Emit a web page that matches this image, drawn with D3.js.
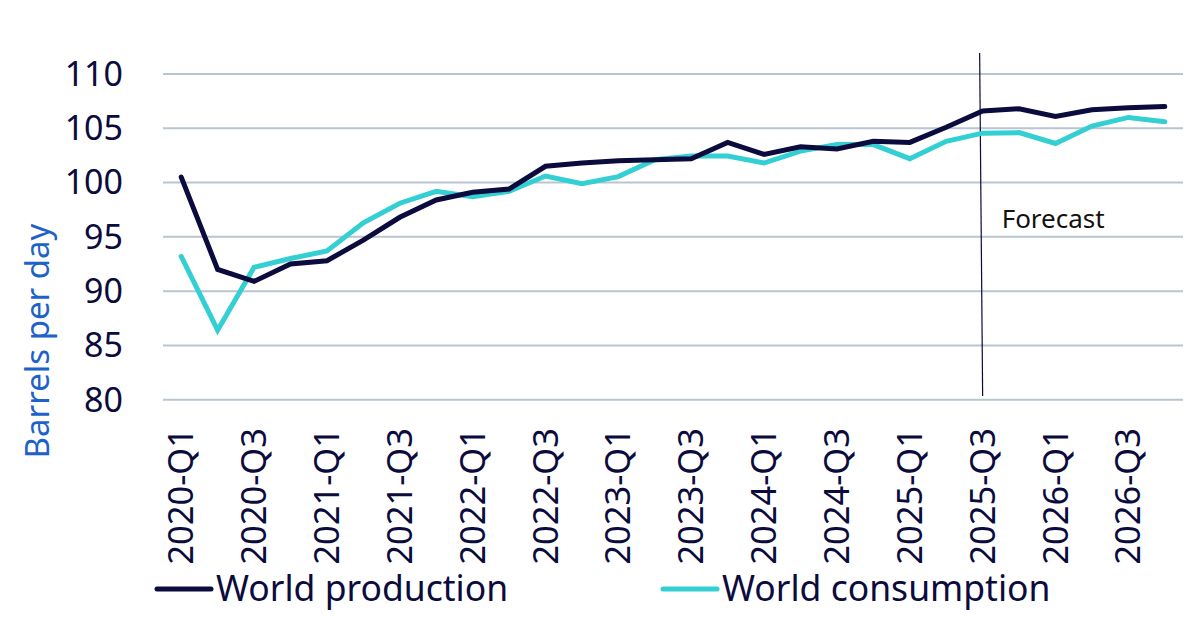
<!DOCTYPE html>
<html><head><meta charset="utf-8">
<script src="https://cdn.jsdelivr.net/npm/d3@7"></script>
<style>html,body{margin:0;padding:0;background:#fff;}svg{display:block;font-family:"Noto Sans",sans-serif;}</style>
</head><body>
<script>
const quarters = ["2020-Q1","2020-Q2","2020-Q3","2020-Q4","2021-Q1","2021-Q2","2021-Q3","2021-Q4",
  "2022-Q1","2022-Q2","2022-Q3","2022-Q4","2023-Q1","2023-Q2","2023-Q3","2023-Q4",
  "2024-Q1","2024-Q2","2024-Q3","2024-Q4","2025-Q1","2025-Q2","2025-Q3","2025-Q4",
  "2026-Q1","2026-Q2","2026-Q3","2026-Q4"];
const tickLabels = ["2020-Q1","2020-Q3","2021-Q1","2021-Q3","2022-Q1","2022-Q3","2023-Q1","2023-Q3",
  "2024-Q1","2024-Q3","2025-Q1","2025-Q3","2026-Q1","2026-Q3"];
const production = [100.5, 92.0, 90.9, 92.5, 92.8, 94.7, 96.8, 98.4, 99.1, 99.4, 101.5, 101.8, 102.0, 102.1,
  102.2, 103.7, 102.6, 103.3, 103.1, 103.8, 103.7, 105.1, 106.6, 106.8, 106.1, 106.7, 106.9, 107.0];
const consumption = [93.2, 86.4, 92.2, 93.0, 93.7, 96.3, 98.1, 99.2, 98.7, 99.2, 100.6, 99.9, 100.55, 102.1,
  102.45, 102.45, 101.8, 102.9, 103.5, 103.5, 102.2, 103.8, 104.55, 104.6, 103.6, 105.2, 106.0, 105.6];
const yTicks = [80, 85, 90, 95, 100, 105, 110];
const forecastStart = "2025-Q3";
const seriesNames = ["World production", "World consumption"];

const W = 1200, H = 617;
const navy = "#0b0b3d", teal = "#33cfd3", grid = "#b9c5d1", blue = "#1d62c9";

const svg = d3.select("body").append("svg").attr("width", W).attr("height", H);

const x = d3.scaleBand().domain(quarters).range([163, 1183]);
const cx = d => x(d) + x.bandwidth() / 2;
const y = d3.scaleLinear().domain([80, 110]).range([399.7, 74]);

// gridlines
svg.append("g").selectAll("line").data(yTicks).join("line")
  .attr("x1", 163).attr("x2", 1183)
  .attr("y1", d => y(d)).attr("y2", d => y(d))
  .attr("stroke", grid).attr("stroke-width", 2);

// y tick labels
svg.append("g").selectAll("text").data(yTicks).join("text")
  .attr("x", 123).attr("y", d => y(d)).attr("dy", "0.35em")
  .attr("text-anchor", "end").attr("font-size", 34).attr("fill", navy)
  .text(d => d);

// y title
svg.append("text").attr("transform", "translate(49,341) rotate(-90)")
  .attr("text-anchor", "middle").attr("font-size", 33).attr("fill", blue)
  .text("Barrels per day");

// x tick labels
svg.append("g").selectAll("text").data(tickLabels).join("text")
  .attr("transform", d => `translate(${cx(d)},428) rotate(-90)`)
  .attr("dy", "0.35em").attr("text-anchor", "end")
  .attr("font-size", 34.5).attr("fill", navy).text(d => d);

// forecast line
const fx = cx(forecastStart);
svg.append("line").attr("x1", fx - 3).attr("x2", fx).attr("y1", 53).attr("y2", 396)
  .attr("stroke", navy).attr("stroke-width", 1.2);
svg.append("text").attr("x", fx + 19).attr("y", 228)
  .attr("font-size", 26).attr("fill", "#111").text("Forecast");

// lines
const line = d3.line().x((d, i) => cx(quarters[i])).y(d => y(d));
svg.append("path").datum(consumption).attr("d", line).attr("fill", "none")
  .attr("stroke", teal).attr("stroke-width", 5).attr("stroke-linecap", "round");
svg.append("path").datum(production).attr("d", line).attr("fill", "none")
  .attr("stroke", navy).attr("stroke-width", 5).attr("stroke-linecap", "round");

// legend
const legend = [
  {name: seriesNames[0], color: navy, x0: 157},
  {name: seriesNames[1], color: teal, x0: 663}
];
const lg = svg.append("g").selectAll("g").data(legend).join("g");
lg.append("line").attr("x1", d => d.x0).attr("x2", d => d.x0 + 54)
  .attr("y1", 589).attr("y2", 589).attr("stroke", d => d.color)
  .attr("stroke-width", 5).attr("stroke-linecap", "round");
lg.append("text").attr("x", d => d.x0 + 59).attr("y", 601)
  .attr("font-size", 35.5).attr("fill", navy).text(d => d.name);
</script>
</body></html>
